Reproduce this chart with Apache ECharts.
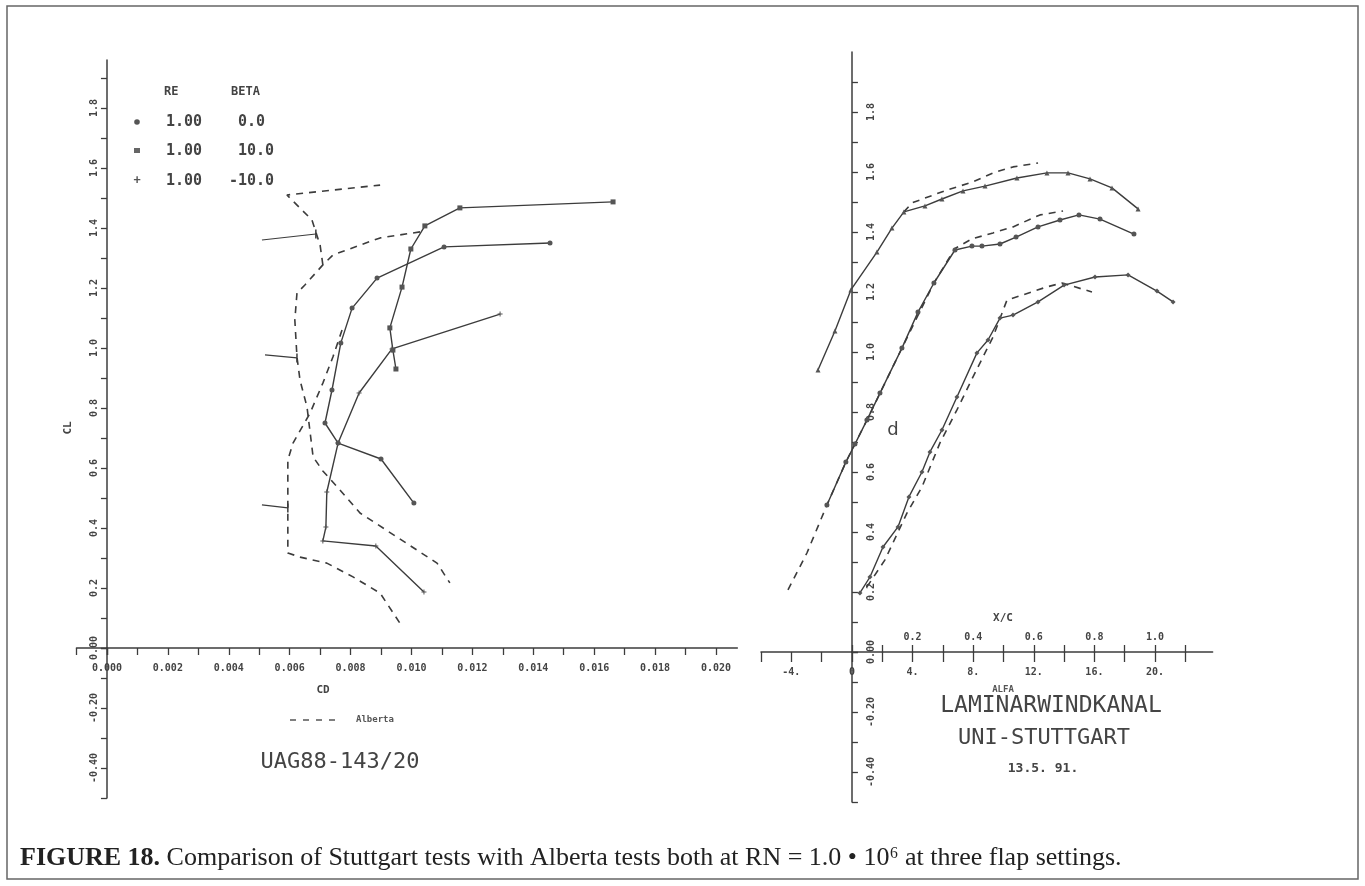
<!DOCTYPE html>
<html>
<head>
<meta charset="utf-8">
<script src="https://cdn.jsdelivr.net/npm/echarts@6/dist/echarts.min.js"></script>
<style>
  html, body { margin: 0; padding: 0; background: #fff; }
  #chart { width: 1365px; height: 886px; }
</style>
</head>
<body>
<div id="chart"></div>
<script>
// drag polar (CD, CL), Stuttgart runs, one list per flap angle
const polarBeta0 = [[0.01455, 1.35], [0.01107, 1.337], [0.00887, 1.233], [0.00805, 1.133], [0.00768, 1.017],
  [0.00739, 0.86], [0.00716, 0.75], [0.00759, 0.683], [0.0090, 0.63], [0.01008, 0.483]]
const polarBeta10 = [[0.01662, 1.487], [0.01159, 1.467], [0.01044, 1.407], [0.00998, 1.33], [0.00969, 1.203],
  [0.00929, 1.067], [0.00939, 0.993], [0.00949, 0.93]]
const polarBetaM10 = [[0.01291, 1.113], [0.00936, 0.997], [0.00828, 0.85], [0.00759, 0.683], [0.00722, 0.52],
  [0.00719, 0.403], [0.00709, 0.357], [0.00883, 0.34], [0.01041, 0.187]]

// drag polar, Alberta runs (dashed)
const albPolar10 = [[0.00709, 1.277], [0.0070, 1.343], [0.00673, 1.427], [0.00591, 1.51], [0.00897, 1.543]]
const albPolar0 = [[0.01028, 1.387], [0.00897, 1.367], [0.00742, 1.31], [0.00709, 1.277], [0.0065, 1.21],
  [0.00624, 1.183], [0.00617, 1.093], [0.00624, 0.97], [0.00634, 0.893], [0.00657, 0.803], [0.00677, 0.637],
  [0.00709, 0.59], [0.00765, 0.527], [0.00831, 0.45], [0.00952, 0.37], [0.01084, 0.283], [0.01126, 0.217]]
const albPolarM10 = [[0.00772, 1.06], [0.00742, 0.97], [0.00709, 0.883], [0.00667, 0.783], [0.00611, 0.683],
  [0.00594, 0.627], [0.00594, 0.317], [0.00634, 0.303], [0.00722, 0.283], [0.00808, 0.237], [0.00897, 0.183],
  [0.00962, 0.083]]

// lift curves (alpha, CL), Stuttgart
const lift10 = [[-2.24, 0.94], [-1.12, 1.07], [-0.07, 1.207], [1.65, 1.333], [2.64, 1.413], [3.43, 1.467],
  [4.82, 1.487], [5.94, 1.51], [7.33, 1.537], [8.78, 1.553], [10.89, 1.58], [12.87, 1.597], [14.26, 1.597],
  [15.71, 1.577], [17.16, 1.547], [18.88, 1.477]]
const lift0 = [[-1.65, 0.49], [-0.4, 0.633], [0.2, 0.693], [0.99, 0.773], [1.85, 0.863], [3.3, 1.013],
  [4.36, 1.133], [5.41, 1.23], [6.8, 1.34], [7.92, 1.353], [8.58, 1.353], [9.77, 1.36], [10.83, 1.383],
  [12.28, 1.417], [13.73, 1.44], [14.98, 1.457], [16.37, 1.443], [18.61, 1.393]]
const liftM10 = [[0.53, 0.197], [1.19, 0.25], [2.05, 0.35], [3.04, 0.417], [3.76, 0.517], [4.62, 0.6],
  [5.15, 0.667], [5.94, 0.74], [6.93, 0.85], [8.25, 0.997], [8.98, 1.04], [9.77, 1.113], [10.63, 1.123],
  [12.28, 1.167], [14.0, 1.223], [16.04, 1.25], [18.22, 1.257], [20.13, 1.203], [21.19, 1.167]]

// lift curves, Alberta
const albLift10 = [[3.43, 1.467], [3.96, 1.497], [6.27, 1.54], [7.99, 1.567], [9.31, 1.597], [10.63, 1.617], [12.28, 1.63]]
const albLift0 = [[-4.22, 0.207], [-2.97, 0.33], [-1.65, 0.49], [-0.4, 0.633], [0.99, 0.773], [3.3, 1.013],
  [5.41, 1.23], [6.8, 1.345], [7.92, 1.377], [9.31, 1.397], [10.63, 1.417], [12.41, 1.457], [13.93, 1.47]]
const albLiftM10 = [[0.99, 0.217], [2.18, 0.307], [3.63, 0.463], [4.62, 0.55], [5.81, 0.697], [6.93, 0.807],
  [7.99, 0.917], [9.31, 1.05], [10.23, 1.173], [12.87, 1.217], [13.86, 1.23], [15.84, 1.2]]

// flap labels pointing at the Alberta polars: [label, from, to]
const flapNotes = [
  ['16.0', [0.00509, 1.36], [0.00686, 1.38]],
  ['0.0', [0.00519, 0.977], [0.00624, 0.967]],
  ['-10.0', [0.00509, 0.477], [0.00594, 0.467]]
]

const legendRows = [['1.00', '0.0', 238], ['1.00', '10.0', 238], ['1.00', '-10.0', 229]]

// axis ranges
const cdMin = -0.001, cdMax = 0.0207, clMinL = -0.5, clMaxL = 1.96
const alfaMin = -6, alfaMax = 23.8, clMinR = -0.5, clMaxR = 2.0

const ink = '#3c3c3c'
const tickFont = { fontFamily: 'DejaVu Sans Mono', fontWeight: 'bold', fontSize: 10, color: '#444' }
const plusPath = 'path://M4,0h2v4h4v2h-4v4h-2v-4h-4v-2h4z'
const lineStyle = { color: ink, width: 1.5 }
const tickStyle = { color: ink, width: 1.3 }

function solid(name, data, symbol, gi) {
  return {
    name: name, type: 'line', data: data, xAxisIndex: gi, yAxisIndex: gi,
    symbol: symbol, symbolSize: 5, showSymbol: true, clip: false,
    lineStyle: { color: ink, width: 1.4 },
    itemStyle: { color: '#555' },
    z: 3
  }
}
function dashed(name, data, gi) {
  return {
    name: name, type: 'line', data: data, xAxisIndex: gi, yAxisIndex: gi,
    symbol: 'none', clip: false,
    lineStyle: { color: ink, width: 1.6, type: [7, 6] },
    z: 2
  }
}
function hidden(gi, min, max) {
  return { type: 'value', gridIndex: gi, min: min, max: max, show: false }
}

function getOption() {
  // grid 0 / 4 hold the data, the other grids only draw the visible axis pieces
  let series = [
    solid('beta 0.0', polarBeta0, 'circle', 0),
    solid('beta 10.0', polarBeta10, 'rect', 0),
    solid('beta -10.0', polarBetaM10, plusPath, 0),
    dashed('Alberta 10', albPolar10, 0),
    dashed('Alberta 0', albPolar0, 0),
    dashed('Alberta -10', albPolarM10, 0),
    solid('beta 10.0 ', lift10, 'triangle', 4),
    solid('beta 0.0 ', lift0, 'circle', 4),
    solid('beta -10.0 ', liftM10, 'diamond', 4),
    dashed('Alberta 10 ', albLift10, 4),
    dashed('Alberta 0 ', albLift0, 4),
    dashed('Alberta -10 ', albLiftM10, 4)
  ]
  flapNotes.forEach(function (n) {
    series.push({
      type: 'line', xAxisIndex: 0, yAxisIndex: 0, clip: false,
      lineStyle: { color: ink, width: 1.2 },
      itemStyle: { color: ink },
      data: [
        { value: n[1], symbol: 'none', label: { show: true, position: 'left', distance: 4, formatter: n[0],
          fontFamily: 'DejaVu Sans Mono', fontWeight: 'bold', fontSize: 9, color: '#555' } },
        { value: n[2], symbol: 'rect', symbolSize: [1.5, 9] }
      ]
    })
  })

  let graphic = [
    { type: 'rect', shape: { x: 7, y: 6, width: 1351, height: 873 }, style: { fill: 'none', stroke: '#666', lineWidth: 1.5 } },
    { type: 'text', x: 164, y: 92, style: { text: 'RE', font: 'bold 12px "DejaVu Sans Mono"', fill: '#444', textVerticalAlign: 'middle' } },
    { type: 'text', x: 231, y: 92, style: { text: 'BETA', font: 'bold 12px "DejaVu Sans Mono"', fill: '#444', textVerticalAlign: 'middle' } },
    { type: 'circle', shape: { cx: 137, cy: 122, r: 2.8 }, style: { fill: '#555' } },
    { type: 'rect', shape: { x: 134, y: 148, width: 6, height: 5 }, style: { fill: '#666' } },
    { type: 'text', x: 137, y: 181, style: { text: '+', font: 'bold 12px "DejaVu Sans Mono"', fill: '#555', textAlign: 'center', textVerticalAlign: 'middle' } },
    { type: 'line', shape: { x1: 290, y1: 720, x2: 340, y2: 720 }, style: { stroke: '#555', lineWidth: 1.4, lineDash: [6, 7] } },
    { type: 'text', x: 356, y: 720, style: { text: 'Alberta', font: 'bold 9px "DejaVu Sans Mono"', fill: '#555', textVerticalAlign: 'middle' } },
    { type: 'text', x: 323, y: 690, style: { text: 'CD', font: 'bold 11px "DejaVu Sans Mono"', fill: '#444', textAlign: 'center', textVerticalAlign: 'middle' } },
    { type: 'text', x: 68, y: 428, rotation: Math.PI / 2, style: { text: 'CL', font: 'bold 11px "DejaVu Sans Mono"', fill: '#444', textAlign: 'center', textVerticalAlign: 'middle' } },
    { type: 'text', x: 340, y: 762, style: { text: 'UAG88-143/20', font: '22px "DejaVu Sans Mono"', fill: '#444', textAlign: 'center', textVerticalAlign: 'middle' } },
    { type: 'text', x: 893, y: 430, style: { text: 'd', font: '18px "DejaVu Sans"', fill: '#444', textAlign: 'center', textVerticalAlign: 'middle' } },
    { type: 'text', x: 1003, y: 618, style: { text: 'X/C', font: 'bold 11px "DejaVu Sans Mono"', fill: '#444', textAlign: 'center', textVerticalAlign: 'middle' } },
    { type: 'text', x: 1003, y: 690, style: { text: 'ALFA', font: 'bold 9px "DejaVu Sans Mono"', fill: '#555', textAlign: 'center', textVerticalAlign: 'middle' } },
    { type: 'text', x: 1051, y: 706, style: { text: 'LAMINARWINDKANAL', font: '23px "DejaVu Sans Mono"', fill: '#444', textAlign: 'center', textVerticalAlign: 'middle' } },
    { type: 'text', x: 1044, y: 738, style: { text: 'UNI-STUTTGART', font: '22px "DejaVu Sans Mono"', fill: '#444', textAlign: 'center', textVerticalAlign: 'middle' } },
    { type: 'text', x: 1043, y: 769, style: { text: '13.5. 91.', font: 'bold 13px "DejaVu Sans Mono"', fill: '#444', textAlign: 'center', textVerticalAlign: 'middle' } },
    { type: 'text', x: 20, y: 858, style: {
      text: '{b|FIGURE 18.} Comparison of Stuttgart tests with Alberta tests both at RN = 1.0 • 10⁶ at three flap settings.',
      font: '26px "Liberation Serif"', fill: '#222', textVerticalAlign: 'middle',
      rich: { b: { fontFamily: 'Liberation Serif', fontSize: 26, fontWeight: 'bold', fill: '#222' } }
    } }
  ]
  legendRows.forEach(function (r, i) {
    let y = 122 + i * 29.5
    graphic.push({ type: 'text', x: 166, y: y, style: { text: r[0], font: 'bold 15px "DejaVu Sans Mono"', fill: '#444', textVerticalAlign: 'middle' } })
    graphic.push({ type: 'text', x: r[2], y: y, style: { text: r[1], font: 'bold 15px "DejaVu Sans Mono"', fill: '#444', textVerticalAlign: 'middle' } })
  })

  let clLabel = function (v) {
    let k = Math.round(v * 10)
    if (k % 2 !== 0) return ''
    if (k === 0) return '0.00'
    return k < 0 ? (k / 10).toFixed(2) : (k / 10).toFixed(1)
  }
  let negClLabel = function (v) {
    return Math.round(v * 10) < 0 ? clLabel(v) : ''
  }
  let cdLabel = function (v) {
    let k = Math.round(v * 1000)
    return (k >= 0 && k % 2 === 0) ? (k / 1000).toFixed(3) : ''
  }
  let alfaLabel = function (v) {
    let k = Math.round(v)
    if (k % 4 !== 0) return ''
    return k === 0 ? '0' : k + '.'
  }
  let xcLabel = function (v) {
    let k = Math.round(v * 10)
    return (k > 0 && k % 2 === 0) ? (k / 10).toFixed(1) : ''
  }

  // pixel frame of the two plots
  const L = { left: 76.5, top: 60, width: 660.8, height: 738 }
  const R = { left: 761, top: 52, width: 451.6, height: 750 }
  const lx0 = L.left + (0 - cdMin) / (cdMax - cdMin) * L.width
  const ly0 = L.top + clMaxL / (clMaxL - clMinL) * L.height
  const rx0 = R.left + (0 - alfaMin) / (alfaMax - alfaMin) * R.width
  const ry0 = R.top + clMaxR / (clMaxR - clMinR) * R.height

  let option = {
    backgroundColor: '#ffffff',
    animation: false,
    grid: [
      L,
      { left: lx0, top: L.top, width: L.left + L.width - lx0, height: ly0 - L.top },
      { left: lx0, top: ly0, width: L.left + L.width - lx0, height: L.top + L.height - ly0 },
      { left: L.left, top: L.top, width: lx0 - L.left, height: ly0 - L.top },
      R,
      { left: rx0, top: R.top, width: R.left + R.width - rx0, height: ry0 - R.top },
      { left: rx0, top: ry0, width: R.left + R.width - rx0, height: R.top + R.height - ry0 },
      { left: R.left, top: R.top, width: rx0 - R.left, height: ry0 - R.top },
      { left: rx0, top: ry0, width: R.left + R.width - rx0, height: 1 }
    ],
    xAxis: [
      hidden(0, cdMin, cdMax),
      {
        type: 'value', gridIndex: 1, min: 0, max: cdMax, interval: 0.001,
        axisLine: { lineStyle: lineStyle },
        axisTick: { length: 7, lineStyle: tickStyle },
        axisLabel: Object.assign({ margin: 15, showMaxLabel: false, formatter: cdLabel }, tickFont),
        splitLine: { show: false }
      },
      hidden(2, 0, cdMax),
      {
        type: 'value', gridIndex: 3, min: cdMin, max: 0, interval: 0.001,
        axisLine: { lineStyle: lineStyle },
        axisTick: { length: 7, lineStyle: tickStyle },
        axisLabel: { show: false },
        splitLine: { show: false }
      },
      hidden(4, alfaMin, alfaMax),
      {
        type: 'value', gridIndex: 5, min: 0, max: alfaMax, interval: 2,
        axisLine: { lineStyle: lineStyle },
        axisTick: { length: 10, lineStyle: tickStyle },
        axisLabel: Object.assign({ margin: 15, showMaxLabel: false, formatter: alfaLabel }, tickFont),
        splitLine: { show: false }
      },
      hidden(6, 0, alfaMax),
      {
        type: 'value', gridIndex: 7, min: alfaMin, max: 0, interval: 2,
        axisLine: { lineStyle: lineStyle },
        axisTick: { length: 10, lineStyle: tickStyle },
        axisLabel: Object.assign({ margin: 15, showMaxLabel: false, formatter: function (v) {
          return Math.round(v) < 0 ? alfaLabel(v) : ''
        } }, tickFont),
        splitLine: { show: false }
      },
      {
        type: 'value', gridIndex: 8, position: 'top', min: 0, max: alfaMax / 20, interval: 0.1,
        axisLine: { show: false },
        axisTick: { length: 8, lineStyle: tickStyle },
        axisLabel: Object.assign({ margin: 10, showMaxLabel: false, formatter: xcLabel }, tickFont),
        splitLine: { show: false }
      }
    ],
    yAxis: [
      hidden(0, clMinL, clMaxL),
      {
        type: 'value', gridIndex: 1, min: 0, max: clMaxL, interval: 0.1,
        axisLine: { lineStyle: lineStyle },
        axisTick: { length: 6, lineStyle: tickStyle },
        axisLabel: Object.assign({ rotate: 90, margin: 8, showMaxLabel: false, formatter: clLabel }, tickFont),
        splitLine: { show: false }
      },
      {
        type: 'value', gridIndex: 2, min: clMinL, max: 0, interval: 0.1,
        axisLine: { lineStyle: lineStyle },
        axisTick: { length: 6, lineStyle: tickStyle },
        axisLabel: Object.assign({ rotate: 90, margin: 8, formatter: negClLabel }, tickFont),
        splitLine: { show: false }
      },
      hidden(3, 0, clMaxL),
      hidden(4, clMinR, clMaxR),
      {
        type: 'value', gridIndex: 5, min: 0, max: clMaxR, interval: 0.1,
        axisLine: { lineStyle: lineStyle },
        axisTick: { inside: true, length: 6, lineStyle: tickStyle },
        axisLabel: Object.assign({ inside: true, rotate: 90, margin: 14, showMaxLabel: false, formatter: clLabel }, tickFont),
        splitLine: { show: false }
      },
      {
        type: 'value', gridIndex: 6, min: clMinR, max: 0, interval: 0.1,
        axisLine: { lineStyle: lineStyle },
        axisTick: { inside: true, length: 6, lineStyle: tickStyle },
        axisLabel: Object.assign({ inside: true, rotate: 90, margin: 14, formatter: negClLabel }, tickFont),
        splitLine: { show: false }
      },
      hidden(7, 0, clMaxR),
      hidden(8, 0, 1)
    ],
    series: series,
    graphic: graphic
  }
  return option
}

let chart = echarts.init(document.getElementById('chart'))
chart.setOption(getOption())
</script>
</body>
</html>
